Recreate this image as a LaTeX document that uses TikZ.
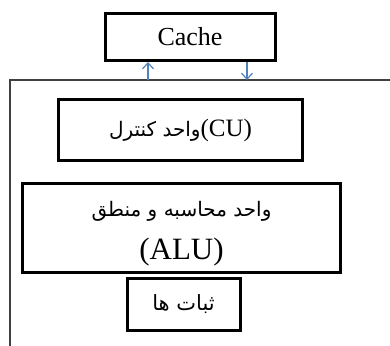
\documentclass[tikz,border=0pt]{standalone}
\usepackage{fontspec}
\setmainfont{Liberation Serif}
\newfontfamily\arabicfont[Script=Arabic]{DejaVu Sans}
\TeXXeTstate=1
\usetikzlibrary{arrows.meta}
\definecolor{linkblue}{HTML}{4F81BD}
\definecolor{framegray}{HTML}{404040}
\begin{document}
\begin{tikzpicture}[x=1pt,y=-1pt,
  box/.style={draw=black, line width=3pt, inner sep=0pt, align=center},
  frameline/.style={draw=framegray, line width=1.3pt},
  link/.style={draw=linkblue, line width=1.2pt, -{Straight Barb[length=6pt,width=11pt,line width=1.2pt]}},
  lat/.style={font=\fontsize{#1}{#1}\selectfont},
  ar/.style={font=\arabicfont\fontsize{#1}{#1}\selectfont}]
  \useasboundingbox (0,0) rectangle (390,345);

  % outer frame of the processor, open to the right and bottom
  \coordinate (fbl) at (10,346);
  \coordinate (ftl) at (10,80);
  \coordinate (ftr) at (391,80);
  \draw[frameline] (fbl) -- (ftl) -- (ftr);

  % cache above the processor
  \node[box, minimum width=170pt, minimum height=47pt, lat=26] (cache) at (190,37) {Cache};

  % control unit
  \node[box, minimum width=244pt, minimum height=61pt] (cu) at (180.5,130)
    {{\arabicfont\fontsize{20}{20}\selectfont\beginR واحد کنترل\endR}{\fontsize{25}{25}\selectfont(CU)}};

  % arithmetic and logic unit
  \node[box, minimum width=318pt, minimum height=89pt] (alu) at (181.5,227.5) {};
  \node[ar=20] (alutxt) at (181.5,211) {\beginR واحد محاسبه و منطق\endR};
  \node[lat=31] (aluabbr) at (181.5,252) {(ALU)};

  % registers
  \node[box, minimum width=113pt, minimum height=52pt, ar=21] (reg) at (183.5,304) {\beginR ثبات ها\endR};

  % transfers between cache and processor
  \coordinate (upfoot) at (148,80);
  \coordinate (downfoot) at (247,80);
  \draw[link] (upfoot) -- (upfoot |- cache.south);
  \draw[link] (downfoot |- cache.south) -- (downfoot);
\end{tikzpicture}
\end{document}
